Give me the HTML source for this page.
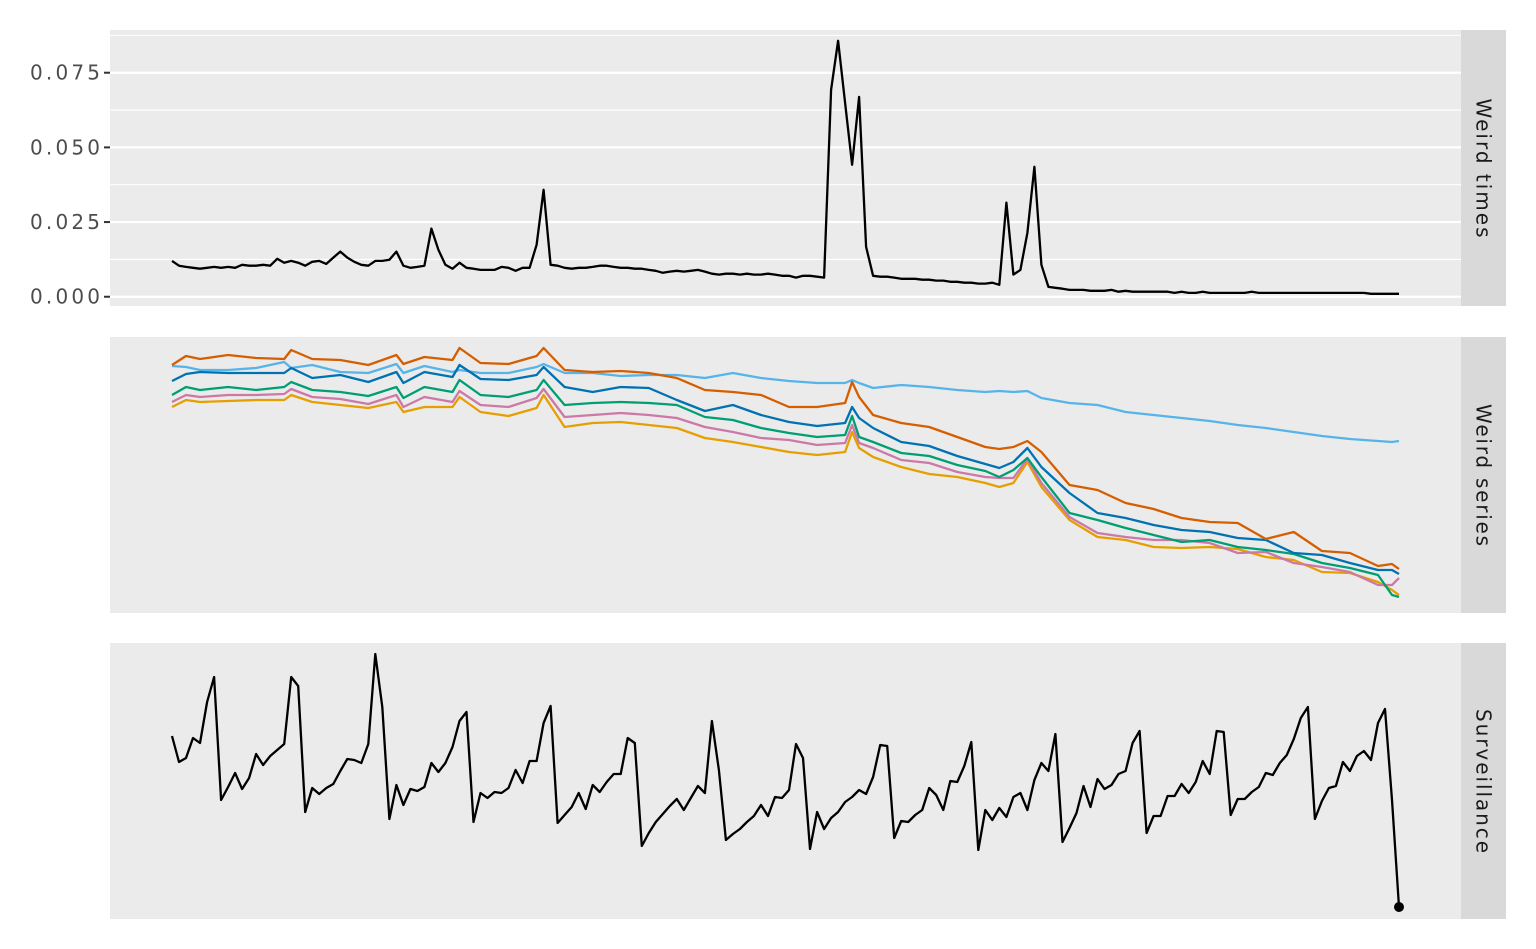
<!DOCTYPE html>
<html><head><meta charset="utf-8"><style>
html,body{margin:0;padding:0;background:#fff;}
svg{display:block;font-family:"DejaVu Sans","Liberation Sans",sans-serif;}
</style></head><body>
<svg id="chart" width="1536" height="949" viewBox="0 0 1536 949" xmlns="http://www.w3.org/2000/svg"></svg>
<script>
// ---- data ----
const weirdTimes = [.0120,.0104,.0100,.0097,.0094,.0097,.0100,.0097,.0100,.0097,.0107,.0104,.0104,.0107,.0104,.0127,.0114,.0120,.0114,.0104,.0117,.0120,.0110,.0131,.0151,.0131,.0117,.0107,.0104,.0120,.0120,.0124,.0151,.0104,.0097,.0100,.0104,.0228,.0157,.0107,.0094,.0114,.0097,.0094,.0090,.0090,.0090,.0100,.0097,.0087,.0097,.0097,.0174,.0358,.0107,.0104,.0097,.0094,.0097,
.0097,.0100,.0104,.0104,.0100,.0097,.0097,.0094,.0094,.0090,.0087,.0080,.0084,.0087,.0084,.0087,.0090,.0084,.0077,.0074,.0077,.0077,.0074,.0077,.0074,.0074,.0077,.0074,.0070,.0070,.0064,.0070,.0070,.0067,.0064,
.0693,.0857,.0649,.0442,.0669,.0167,.0070,.0067,.0067,.0064,.0060,.0060,.0060,.0057,.0057,.0054,.0054,.0050,.0050,.0047,.0047,.0044,.0044,.0047,.0040,.0315,.0074,.0090,.0214,.0435,.0107,.0033,.0030,.0027,.0023,.0023,.0023,.0020,.0020,.0020,.0023,.0017,.0020,.0017,.0017,.0017,.0017,.0017,.0017,.0013,.0017,.0013,.0013,.0017,.0013,.0013,.0013,.0013,.0013,.0013,.0017,.0013,.0013,.0013,.0013,.0013,.0013,.0013,.0013,.0013,.0013,.0013,.0013,.0013,.0013,.0013,.0013,.0010,.0010,.0010,.0010,.0010];
const seriesIndex = [0,2,4,8,12,16,17,20,24,28,32,33,36,40,41,44,48,52,53,56,60,64,68,72,76,80,84,88,92,96,97,98,100,104,108,112,116,118,120,122,124,128,132,136,140,144,148,152,156,160,164,168,172,174,175];
const seriesRed = [248,257,254,258,255,254,263,254,253,248,258,249,256,253,265,250,249,257,265,243,241,242,240,235,223,221,218,206,206,210,231,216,198,190,186,176,166,164,166,172,161,128,123,110,104,95,91,90,74,81,62,60,47,49,44];
const seriesSky = [247,246,243,243,245,251,245,248,241,240,249,240,247,241,243,240,240,246,249,240,240,237,238,238,235,240,235,232,230,230,233,230,225,228,226,223,221,222,221,222,215,210,208,201,198,195,192,188,185,181,177,174,172,171,172];
const seriesBlue = [232,239,241,240,240,240,245,235,238,231,241,230,241,236,248,234,233,238,246,226,221,226,225,213,202,208,198,191,187,190,206,195,185,171,167,157,149,145,151,165,146,120,100,95,88,83,81,75,73,60,58,50,43,43,39];
const seriesGreen = [218,226,223,226,223,226,231,223,221,217,226,215,226,221,233,218,216,223,233,208,210,211,210,208,196,193,185,180,176,178,197,176,171,160,157,148,142,136,143,155,136,100,93,85,78,71,73,66,63,59,50,45,38,18,16];
const seriesPink = [211,218,216,218,218,219,224,216,214,209,218,206,216,211,222,208,206,215,224,196,198,200,198,195,186,181,175,173,168,170,188,170,165,153,150,141,136,135,135,154,130,96,80,76,73,73,70,60,61,50,46,41,28,28,35];
const seriesOrange = [206,213,211,212,213,213,218,211,208,205,211,201,206,206,216,201,197,205,218,186,190,191,188,185,175,171,166,161,158,161,181,165,156,146,139,136,130,126,130,151,126,93,76,73,66,65,66,64,56,53,41,40,31,23,18];
const surveillance = [183,157,161,181,176,217,242,119,132,146,130,141,165,154,163,169,175,242,233,107,131,125,131,135,148,160,159,156,175,265,212,100,134,114,130,128,132,156,147,156,172,198,207,97,126,121,127,126,131,149,136,158,158,196,213,96,104,112,
126,110,134,127,137,145,145,181,176,73,86,97,105,113,120,109,121,133,126,198,149,79,85,90,97,103,114,103,122,121,129,175,161,70,107,90,101,107,117,122,129,125,142,174,173,81,98,97,104,109,131,124,109,138,137,153,177,69,
109,99,111,102,122,126,109,139,156,148,185,77,91,106,133,112,140,130,134,145,148,176,188,86,103,103,123,123,135,126,137,158,145,188,187,104,120,120,127,132,146,144,156,164,180,201,212,100,118,131,133,157,148,163,168,159,196,210,119,12];
const yTicks = [0, 0.025, 0.05, 0.075];
const yTickLabels = ["0.000","0.025","0.050","0.075"];
const stripLabels = ["Weird times","Weird series","Surveillance"];

// ---- layout ----
const NS = "http://www.w3.org/2000/svg";
const svg = document.getElementById('chart');
const PX0 = 110, PX1 = 1461, XL = 172, XR = 1399, N = 176;
const panels = [{top:30,bot:306,dom:[-0.0031,0.0893]},{top:337,bot:613,dom:[0,276]},{top:643,bot:919,dom:[0,276]}];
const stripLens = [139,142,144];
function xPos(i){ return XL + i*(XR-XL)/(N-1); }
function yScale(p){ const d=p.dom; return v => p.bot - (v-d[0])/(d[1]-d[0])*(p.bot-p.top); }
function mk(tag, attrs){ const e=document.createElementNS(NS,tag); for(const k in attrs) e.setAttribute(k,attrs[k]); svg.appendChild(e); return e; }

panels.forEach((p,k)=>{
  const bg = mk('rect',{x:PX0,y:p.top,width:PX1-PX0,height:p.bot-p.top,fill:'#ebebeb'});
  
  
  const st = mk('rect',{x:PX1,y:p.top,width:45,height:p.bot-p.top,fill:'#d9d9d9'});
  
  
  const cx = PX1+22.5, cy=(p.top+p.bot)/2;
  const t = mk('text',{x:cx,y:cy,transform:`rotate(90 ${cx} ${cy})`,'text-anchor':'middle','dominant-baseline':'central','font-size':'20',fill:'#1a1a1a',textLength:stripLens[k],lengthAdjust:'spacing'});
  t.textContent = stripLabels[k];
  
  
});

// panel 1 grid + axis
const p1 = panels[0], y1 = yScale(p1);
[-0.0125,0.0125,0.0375,0.0625,0.0875].forEach(v=>{
  const yy=y1(v); if(yy<p1.top||yy>p1.bot) return;
  const g = mk('line',{x1:PX0,x2:PX1,y1:yy,y2:yy,stroke:'#fff','stroke-width':1.1});
  
  
});
yTicks.forEach((v,i)=>{
  const yy=y1(v);
  const g = mk('line',{x1:PX0,x2:PX1,y1:yy,y2:yy,stroke:'#fff','stroke-width':2.2});
  
  
  const tk = mk('line',{x1:PX0-6,x2:PX0,y1:yy,y2:yy,stroke:'#333','stroke-width':2});
  
  
  const tl = mk('text',{x:PX0-10,y:yy,'text-anchor':'end','dominant-baseline':'central','font-size':'20',fill:'#4d4d4d',textLength:70,lengthAdjust:'spacing'});
  tl.textContent = yTickLabels[i];
  
  
});

function line(vals, idx, p, color, name){
  const ys=yScale(p);
  const d = vals.map((v,j)=>(j?'L':'M')+xPos(idx?idx[j]:j).toFixed(1)+','+ys(v).toFixed(1)).join('');
  const e = mk('path',{d:d,fill:'none',stroke:color,'stroke-width':2.3,'stroke-linejoin':'round'});
  
  
  return e;
}
line(weirdTimes,null,panels[0],'#000','weird-times-line');
line(seriesSky,seriesIndex,panels[1],'#56B4E9','series-sky-blue');
line(seriesOrange,seriesIndex,panels[1],'#E69F00','series-orange');
line(seriesPink,seriesIndex,panels[1],'#CC79A7','series-pink');
line(seriesGreen,seriesIndex,panels[1],'#009E73','series-green');
line(seriesBlue,seriesIndex,panels[1],'#0072B2','series-blue');
line(seriesRed,seriesIndex,panels[1],'#D55E00','series-vermillion');
line(surveillance,null,panels[2],'#000','surveillance-line');
const y3 = yScale(panels[2]);
const last = surveillance.length-1;
const dot = mk('circle',{cx:xPos(last),cy:y3(surveillance[last]),r:5,fill:'#000'});


</script>
</body></html>
